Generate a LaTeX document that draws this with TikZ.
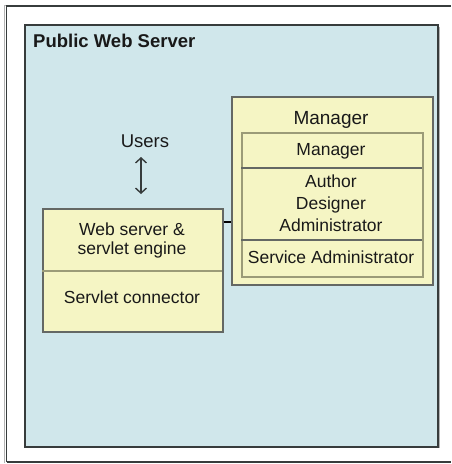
\documentclass[tikz,border=0pt]{standalone}
\usepackage{fontspec}
\setmainfont{Liberation Sans}
\usetikzlibrary{arrows.meta}
\definecolor{bluefill}{RGB}{208,231,235}
\definecolor{yellowfill}{RGB}{245,245,196}
\definecolor{frameline}{RGB}{55,60,60}
\definecolor{boxline}{RGB}{100,104,100}
\definecolor{innerline}{RGB}{155,155,120}
\definecolor{shadowgray}{RGB}{180,180,180}
\tikzset{
  lbl/.style={font=\fontsize{17.5}{20}\selectfont, text=black!90, inner sep=0pt, anchor=base},
  ttl/.style={font=\fontsize{19}{22}\selectfont, text=black!90, inner sep=0pt, anchor=base},
  yellowbox/.style={fill=yellowfill, draw=boxline, line width=1.6pt},
  innerbox/.style={draw=innerline, line width=1.6pt},
  divider/.style={draw=boxline, line width=1.2pt},
}
\begin{document}
\begin{tikzpicture}[x=1pt,y=-1pt]
\useasboundingbox (0,0) rectangle (451,464);
\fill[white] (0,0) rectangle (451,464);
% outer frame (right side open)
\draw[shadowgray, line width=1pt] (4.5,463) -- (4.5,5.5) -- (451,5.5);
\draw[frameline, line width=1.6pt] (6.5,462) -- (6.5,6) -- (451,6);
\draw[frameline, line width=1.6pt] (6.5,462) -- (451,462);
% blue panel with shadow
\fill[shadowgray] (26,27) rectangle (440,448);
\node[draw=frameline, line width=2pt, fill=bluefill, minimum width=413pt, minimum height=422pt, inner sep=0pt, anchor=north west] (panel) at (24,24) {};
\node[anchor=base west, font=\bfseries\fontsize{18.5}{22}\selectfont, text=black!90, inner sep=0pt] (title) at (33,47) {Public Web Server};
% Manager box
\node[yellowbox, minimum width=201pt, minimum height=188pt, inner sep=0pt, anchor=north west] (mgr) at (231,96) {};
\node[ttl] (mgrtitle) at (331,124) {Manager};
\node[innerbox, minimum width=181pt, minimum height=144pt, inner sep=0pt, anchor=north west] (inner) at (241,132) {};
\draw[divider] (241,168) -- (422,168);
\draw[divider] (241,240) -- (422,240);
\node[lbl] (mgrrole) at (331,155) {Manager};
\node[lbl] (author) at (331,187) {Author};
\node[lbl] (designer) at (331,209) {Designer};
\node[lbl] (admin) at (331,231) {Administrator};
\node[lbl] (svc) at (331,263) {Service Administrator};
% Web server box
\node[yellowbox, minimum width=180pt, minimum height=123pt, inner sep=0pt, anchor=north west] (web) at (42,208) {};
\draw[draw=innerline, line width=2pt] (42,271) -- (222,271);
\node[lbl] (engine1) at (132,235) {Web server \&};
\node[lbl] (engine2) at (132,254) {servlet engine};
\node[lbl] (conn) at (132,303.5) {Servlet connector};
% Users
\node[ttl, font=\fontsize{18.5}{22}\selectfont] (users) at (145,147) {Users};
\coordinate (atop) at (141,157);
\coordinate (abot) at (141,194);
\draw[frameline, line width=1.4pt, {Straight Barb[length=5pt,width=11pt]}-{Straight Barb[length=5pt,width=11pt]}] (atop) -- (abot);
% connector
\draw[black, line width=1.8pt] (web.east |- 0,222) -- (mgr.west |- 0,222);
\end{tikzpicture}
\end{document}
